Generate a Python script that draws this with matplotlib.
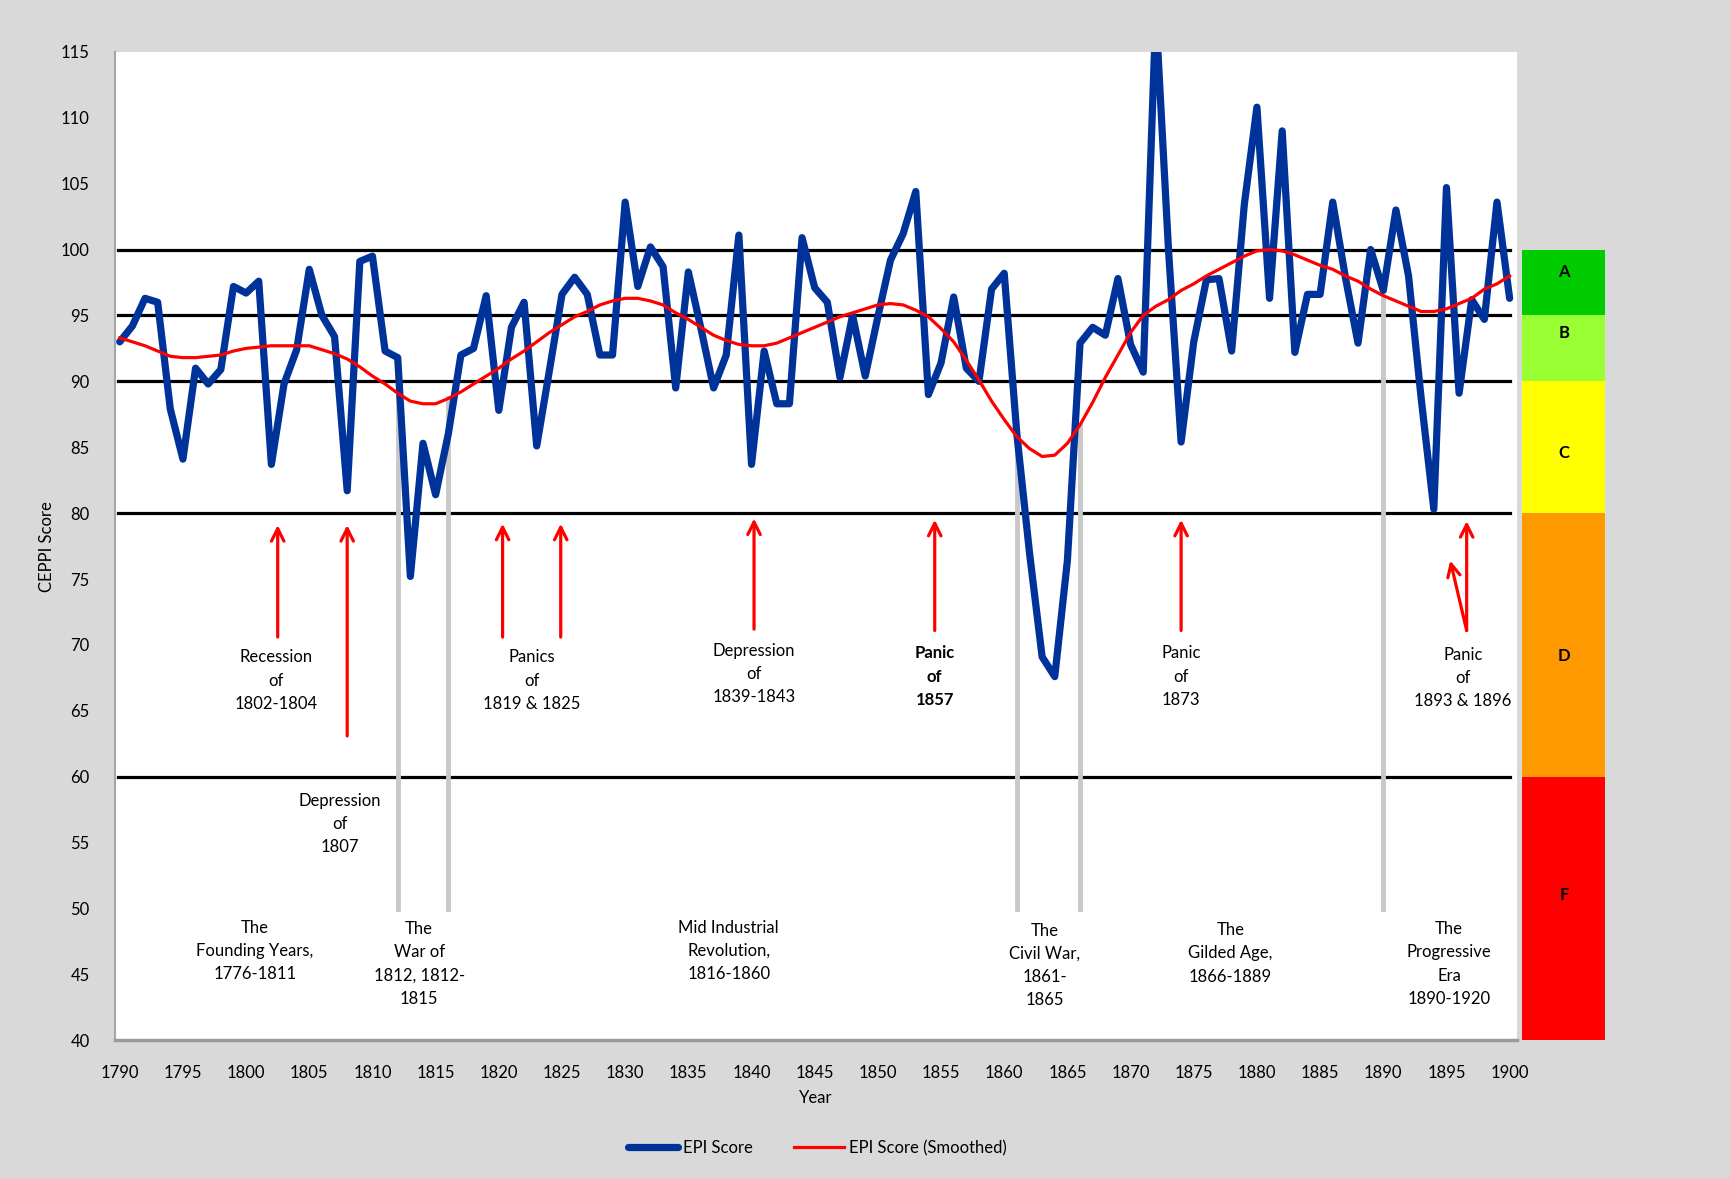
import numpy as np
import matplotlib.pyplot as plt

plt.rcParams['font.family'] = ['Lato', 'DejaVu Sans']

########## DATA ###############################################################
years = list(range(1790, 1901))
epi = [93.0, 94.2, 96.3, 96.0, 87.9, 84.1, 91.0, 89.8, 90.9, 97.2,
       96.7, 97.6, 83.7, 89.8, 92.4, 98.5, 95.0, 93.4, 81.7, 99.1,
       99.5, 92.3, 91.8, 75.2, 85.3, 81.4, 86.0, 92.0, 92.5, 96.5,
       87.8, 94.1, 96.0, 85.1, 90.8, 96.6, 97.9, 96.6, 92.0, 92.0,
       103.6, 97.2, 100.2, 98.7, 89.5, 98.3, 94.0, 89.5, 92.0, 101.1,
       83.7, 92.3, 88.3, 88.3, 100.9, 97.1, 96.0, 90.3, 95.0, 90.4,
       94.9, 99.2, 101.2, 104.4, 89.0, 91.4, 96.4, 91.0, 90.0, 97.0,
       98.2, 86.0, 77.0, 69.1, 67.6, 76.4, 92.9, 94.1, 93.5, 97.8,
       92.8, 90.7, 118.0, 100.0, 85.4, 93.0, 97.7, 97.8, 92.3, 103.4,
       110.8, 96.3, 109.0, 92.2, 96.6, 96.6, 103.6, 97.9, 92.9, 100.0,
       96.9, 103.0, 98.0, 88.7, 80.3, 104.7, 89.1, 96.2, 94.7, 103.6,
       96.3]
smooth = [93.3, 93.0, 92.7, 92.3, 91.9, 91.8, 91.8, 91.9, 92.0, 92.3,
          92.5, 92.6, 92.7, 92.7, 92.7, 92.7, 92.4, 92.1, 91.7, 91.1,
          90.4, 89.8, 89.1, 88.5, 88.3, 88.3, 88.7, 89.2, 89.8, 90.4,
          91.0, 91.7, 92.3, 93.0, 93.7, 94.3, 94.9, 95.3, 95.8, 96.1,
          96.3, 96.3, 96.1, 95.8, 95.2, 94.7, 94.1, 93.5, 93.1, 92.8,
          92.7, 92.7, 92.9, 93.3, 93.7, 94.1, 94.5, 94.9, 95.2, 95.5,
          95.8, 95.9, 95.8, 95.4, 94.9, 94.0, 93.0, 91.6, 90.1, 88.5,
          87.1, 85.8, 84.9, 84.3, 84.4, 85.3, 86.7, 88.4, 90.3, 92.0,
          93.7, 95.0, 95.7, 96.2, 96.9, 97.4, 98.0, 98.5, 99.0, 99.5,
          99.9, 100.0, 99.9, 99.6, 99.2, 98.8, 98.5, 98.0, 97.6, 97.0,
          96.5, 96.1, 95.7, 95.3, 95.3, 95.5, 95.9, 96.3, 97.0, 97.4,
          98.0]

grade_lines = [100, 95, 90, 80, 60]
era_breaks = [1812, 1816, 1861, 1866, 1890]

# grade bands: label, low, high, colour, label y
grades = ['A', 'B', 'C', 'D', 'F']
grade_lo = [95, 90, 80, 60, 40]
grade_hi = [100, 95, 90, 80, 60]
grade_col = ['#00cc00', '#99ff33', '#ffff00', '#ff9900', '#ff0000']
grade_lab_y = [98.3, 93.7, 84.6, 69.2, 51.0]

# event arrows: x, bottom, tip
arrow_x = [1802.5, 1808.0, 1820.3, 1824.9, 1840.2, 1854.5, 1874.0, 1896.6]
arrow_lo = [70.6, 63.1, 70.6, 70.6, 71.2, 71.1, 71.1, 71.1]
arrow_hi = [79.1, 79.1, 79.2, 79.2, 79.6, 79.5, 79.5, 79.4]

events = ["Recession\nof\n1802-1804", "Depression\nof\n1807", "Panics\nof\n1819 & 1825",
          "Depression\nof\n1839-1843", "Panic\nof\n1857", "Panic\nof\n1873",
          "Panic\nof\n1893 & 1896"]
event_x = [1802.4, 1807.4, 1822.6, 1840.2, 1854.5, 1874.0, 1896.3]
event_y = [67.3, 56.4, 67.3, 67.8, 67.6, 67.6, 67.5]

eras = ["The\nFounding Years,\n1776-1811", "The\nWar of\n1812, 1812-\n1815",
        "Mid Industrial\nRevolution,\n1816-1860", "The\nCivil War,\n1861-\n1865",
        "The\nGilded Age,\n1866-1889", "The\nProgressive\nEra\n1890-1920"]
era_x = [1800.7, 1813.7, 1838.2, 1863.2, 1877.9, 1895.2]
era_y = [46.8, 45.8, 46.8, 45.7, 46.6, 45.8]

########## FIGURE #############################################################
fig = plt.figure(figsize=(17.3, 11.78), dpi=100, facecolor='#d9d9d9')
ax = fig.add_axes([0.0663, 0.1168, 0.8107, 0.8392])
ax.set_facecolor('white')

ax.set_xlim(1789.6, 1900.6)
ax.set_ylim(40, 115)

# grade boundaries
for g in grade_lines:
    ax.plot([1789.9, 1900], [g, g], color='black', lw=2.3, zorder=2)

# era separators (start at smoothed line, go to 50)
for yr in era_breaks:
    top = smooth[years.index(yr)]
    ax.plot([yr, yr], [50, top], color='#c8c8c8', lw=3.5, zorder=3)

ax.plot(years, epi, color='#003399', lw=5.2, solid_joinstyle='round',
        solid_capstyle='round', zorder=4, label='EPI Score')
ax.plot(years, smooth, color='#ff0000', lw=2.3, zorder=5, label='EPI Score (Smoothed)')

for x, lo, hi in zip(arrow_x, arrow_lo, arrow_hi):
    ax.annotate('', xy=(x, hi), xytext=(x, lo),
                arrowprops=dict(arrowstyle='->,head_length=0.9,head_width=0.45',
                                color='red', lw=2.3, shrinkA=0, shrinkB=0))
# the second, slanted arrow of 1893 & 1896
ax.annotate('', xy=(1895.3, 76.4), xytext=(1896.6, 71.1),
            arrowprops=dict(arrowstyle='->,head_length=0.9,head_width=0.45',
                            color='red', lw=2.3, shrinkA=0, shrinkB=0))

for t, x, y in zip(events, event_x, event_y):
    w = 'bold' if '1857' in t else 'normal'
    ax.text(x, y, t, ha='center', va='center', fontsize=12, weight=w,
            linespacing=1.55)
for t, x, y in zip(eras, era_x, era_y):
    ax.text(x, y, t, ha='center', va='center', fontsize=12, linespacing=1.55)

ax.set_xticks(range(1790, 1901, 5))
ax.set_yticks(range(40, 116, 5))
ax.tick_params(axis='both', length=0, labelsize=12)
ax.tick_params(axis='x', pad=18)
ax.tick_params(axis='y', pad=18)
ax.set_xlabel('Year', fontsize=12, labelpad=6)
ax.set_ylabel('CEPPI Score', fontsize=12, labelpad=4)

for s in ['top', 'right']:
    ax.spines[s].set_visible(False)
ax.spines['left'].set_color('#a6a6a6')
ax.spines['left'].set_linewidth(1.5)
ax.spines['bottom'].set_color('#9a9a9a')
ax.spines['bottom'].set_linewidth(2.5)

# grade bar
gax = fig.add_axes([0.880, 0.1168, 0.048, 0.8392])
gax.set_xlim(0, 1)
gax.set_ylim(40, 115)
gax.axis('off')
gax.bar([0.5] * len(grades), np.array(grade_hi) - np.array(grade_lo),
        bottom=grade_lo, width=1.0, color=grade_col)
for g, y in zip(grades, grade_lab_y):
    gax.text(0.5, y, g, ha='center', va='center', fontsize=12, weight='bold')

fig.legend(loc='center', bbox_to_anchor=(0.4725, 0.0253), ncol=2, frameon=False,
           fontsize=12, handlelength=3.0, columnspacing=2.5, handletextpad=0.3)

fig.savefig('out.png', dpi=100, facecolor=fig.get_facecolor())
